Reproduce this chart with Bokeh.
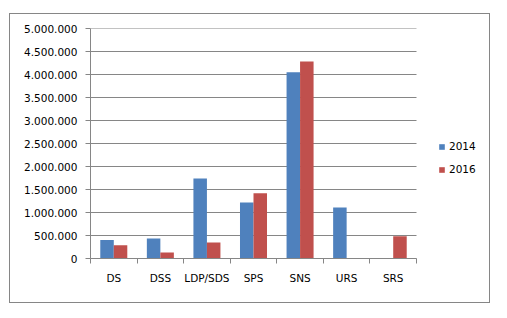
from bokeh.plotting import figure
from bokeh.models import ColumnDataSource, Range1d, FixedTicker, Legend, LegendItem
from bokeh.embed import file_html
from bokeh.resources import INLINE

categories = ["DS", "DSS", "LDP/SDS", "SPS", "SNS", "URS", "SRS"]
series_names = ["2014", "2016"]
values_2014 = [400000, 435000, 1740000, 1220000, 4050000, 1110000, 0]
values_2016 = [290000, 130000, 350000, 1420000, 4280000, 0, 485000]
y_ticks = [0, 500000, 1000000, 1500000, 2000000, 2500000, 3000000, 3500000,
           4000000, 4500000, 5000000]
y_tick_labels = ["0", "500.000", "1.000.000", "1.500.000", "2.000.000", "2.500.000",
                 "3.000.000", "3.500.000", "4.000.000", "4.500.000", "5.000.000"]

BLUE = "#4F81BD"
RED = "#C0504D"
GRAY = "#868686"
FONT = "DejaVu Sans"
FS = "10.5px"

n = len(categories)
centers = [i + 0.5 for i in range(n)]
bw = 0.29
src = ColumnDataSource(dict(
    x14=[c - bw / 2 for c in centers],
    x16=[c + bw / 2 for c in centers],
    v14=values_2014,
    v16=values_2016,
))
grid_src = ColumnDataSource(dict(y=y_ticks, x0=[0] * len(y_ticks), x1=[n] * len(y_ticks)))

# frame spans 90..489 px; categories occupy 90..416 px
x_end = n * 399.0 / 326.0
p = figure(width=479, height=288, output_backend="svg", toolbar_location=None,
           x_range=Range1d(0, x_end), y_range=Range1d(0, 5000000),
           min_border_left=80, min_border_right=0, min_border_top=14,
           min_border_bottom=44)
p.margin = (14, 0, 0, 10)
p.styles = {"outline": "1px solid #868686", "outline-offset": "0px"}
p.outline_line_color = None
p.background_fill_color = "white"
p.border_fill_color = "white"

p.segment(x0="x0", x1="x1", y0="y", y1="y", source=grid_src, line_color=GRAY,
          line_width=1, level="underlay")
r14 = p.vbar(x="x14", top="v14", width=bw, source=src, fill_color=BLUE, line_color=None)
r16 = p.vbar(x="x16", top="v16", width=bw, source=src, fill_color=RED, line_color=None)

# x axis
xa = p.xaxis[0]
xa.bounds = (0, n)
xa.ticker = FixedTicker(ticks=centers, minor_ticks=[float(i) for i in range(n + 1)])
xa.major_label_overrides = {c: lab for c, lab in zip(centers, categories)}
xa.major_tick_out = 0
xa.major_tick_in = 0
xa.minor_tick_out = 5
xa.minor_tick_in = 0
xa.minor_tick_line_color = GRAY
xa.axis_line_color = GRAY
xa.major_label_standoff = 8
xa.major_label_text_font = FONT
xa.major_label_text_font_size = FS
xa.major_label_text_color = "black"

# y axis
ya = p.yaxis[0]
ya.ticker = FixedTicker(ticks=y_ticks)
ya.major_label_overrides = {t: lab for t, lab in zip(y_ticks, y_tick_labels)}
ya.major_tick_out = 5
ya.major_tick_in = 0
ya.minor_tick_line_color = None
ya.major_tick_line_color = GRAY
ya.axis_line_color = GRAY
ya.major_label_standoff = 8
ya.major_label_text_font = FONT
ya.major_label_text_font_size = FS
ya.major_label_text_color = "black"

p.xgrid.visible = False
p.ygrid.visible = False

legend = Legend(items=[LegendItem(label=series_names[0], renderers=[r14]),
                       LegendItem(label=series_names[1], renderers=[r16])],
                location=(348, 83), orientation="vertical",
                border_line_color=None, background_fill_alpha=0,
                padding=0, margin=0, spacing=11,
                glyph_width=7, glyph_height=7, label_height=12,
                label_standoff=4, label_text_font=FONT, label_text_font_size=FS,
                label_text_color="black")
p.add_layout(legend, "center")

open("out.html", "w").write(file_html(p, INLINE))
